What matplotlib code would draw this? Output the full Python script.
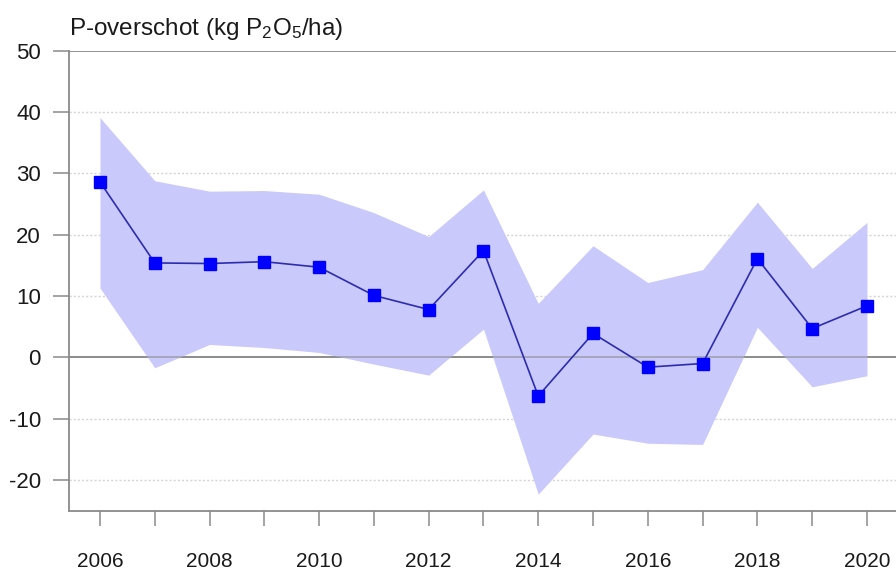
import matplotlib
matplotlib.use("Agg")
import matplotlib.pyplot as plt

# ---- data ----
years = list(range(2006, 2021))
mean_vals = [28.6, 15.4, 15.3, 15.6, 14.7, 10.1, 7.8, 17.4, -6.3, 3.9, -1.6, -1.0, 16.1, 4.7, 8.4]
upper_vals = [39.1, 28.8, 27.1, 27.2, 26.6, 23.6, 19.7, 27.3, 8.8, 18.2, 12.2, 14.3, 25.3, 14.5, 22.0]
lower_vals = [11.3, -1.7, 2.1, 1.6, 0.8, -1.1, -2.9, 4.6, -22.3, -12.5, -14.0, -14.2, 4.9, -4.8, -3.0]
y_ticks = [-20, -10, 0, 10, 20, 30, 40, 50]
x_label_years = [2006, 2008, 2010, 2012, 2014, 2016, 2018, 2020]
title = r"P-overschot (kg P$_2$O$_5$/ha)"

plt.rcParams["font.family"] = ["Liberation Sans", "DejaVu Sans"]
plt.rcParams["mathtext.default"] = "regular"

W, H = 896, 570
fig = plt.figure(figsize=(W / 100, H / 100), dpi=100)
left_px, right_px, top_px, bottom_px = 69.3, 896, 50.7, 510.7
ax = fig.add_axes([left_px / W, 1 - bottom_px / H, (right_px - left_px) / W, (bottom_px - top_px) / H])

ax.set_xlim(2005.44, 2020.53)
ax.set_ylim(-25, 50)

# grid
for v in y_ticks:
    if v == 0 or v == 50:
        ax.axhline(v, color="#8a8a8a", lw=1.3, zorder=1)
    else:
        ax.axhline(v, color="#d4d4d4", lw=1.0, ls=(0, (1.5, 1.5)), zorder=1)

ax.fill_between(years, lower_vals, upper_vals, color="#c9c9fb", lw=0, zorder=2)
ax.axhline(0, color="#8a8a8a", lw=1.3, zorder=2.5, alpha=0.6)
ax.plot(years, mean_vals, color="#2c2cb0", lw=1.2, marker="s", markersize=8.5,
        markerfacecolor="#0000ff", markeredgecolor="#0000ff", zorder=3)

for s in ["top", "right"]:
    ax.spines[s].set_visible(False)
for s in ["left", "bottom"]:
    ax.spines[s].set_color("#8a8a8a")
    ax.spines[s].set_linewidth(1.3)

ax.set_yticks(y_ticks)
ax.set_yticklabels([str(v) for v in y_ticks])
ax.set_xticks(years)
ax.set_xticklabels([str(y) if y in x_label_years else "" for y in years])

ax.tick_params(axis="y", length=11.5, width=1.1, color="#8a8a8a", pad=9,
               labelsize=16, labelcolor="#1a1a1a")
ax.tick_params(axis="x", length=11, width=1.1, color="#8a8a8a", pad=18.5,
               labelsize=15, labelcolor="#1a1a1a")

fig.text(left_px / W, 1 - 35 / H, title, fontsize=17.5, color="#1a1a1a",
         ha="left", va="baseline")

fig.savefig("out.png", dpi=100, facecolor="white")
